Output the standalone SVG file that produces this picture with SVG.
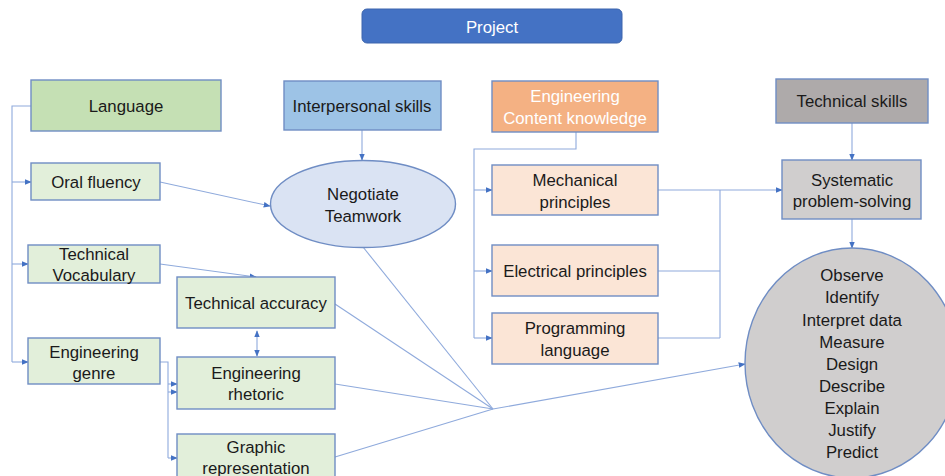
<svg xmlns="http://www.w3.org/2000/svg" width="945" height="476" viewBox="0 0 945 476">
<defs>
<marker id="ah" viewBox="0 0 10 10" refX="9" refY="5" markerWidth="7" markerHeight="7" orient="auto-start-reverse" markerUnits="userSpaceOnUse">
<path d="M0,1 L10,5 L0,9 z" fill="#4472c4"/>
</marker>
<style>
text{font-family:"Liberation Sans","Open Sans",sans-serif;font-size:16.8px;fill:#1a1a1a;text-anchor:middle;dominant-baseline:central}
.box{stroke:#6f8dc4;stroke-width:1.4}
.g1{fill:#c5e0b4}
.g2{fill:#e2efda}
.b1{fill:#9dc3e6}
.b2{fill:#dae3f3}
.o1{fill:#f4b183}
.o2{fill:#fbe5d6}
.k1{fill:#aeaaaa}
.k2{fill:#d0cece}
.w{fill:#ffffff}
.c{fill:none;stroke:#8faadc;stroke-width:1.1}
.a{marker-end:url(#ah)}
</style>
</defs>
<g id="connectors">
<path class="c" d="M31,106 H12 V362"/>
<path class="c a" d="M12,182 H31"/>
<path class="c a" d="M12,264 H28"/>
<path class="c a" d="M12,362 H28"/>
<path class="c a" d="M160,182 L270,206"/>
<path class="c a" d="M160,264 L256,277"/>
<path class="c" d="M257,331 V356" marker-start="url(#ah)" marker-end="url(#ah)"/>
<path class="c" d="M160,362 H168 V458"/>
<path class="c a" d="M168,384 H177"/>
<path class="c a" d="M168,392 H177"/>
<path class="c a" d="M168,458 H177"/>
<path class="c a" d="M362,130 V160"/>
<path class="c" d="M363,247 L493,409"/>
<path class="c" d="M335,304 L493,409"/>
<path class="c" d="M335,384 L493,409"/>
<path class="c" d="M335,457 L493,409"/>
<path class="c a" d="M493,409 L745,364"/>
<path class="c" d="M576,132 V149 H474 V338"/>
<path class="c a" d="M474,190 H492"/>
<path class="c a" d="M474,271 H492"/>
<path class="c a" d="M474,338 H492"/>
<path class="c a" d="M658,190 H782"/>
<path class="c" d="M720,190 V338"/>
<path class="c" d="M658,271 H720"/>
<path class="c" d="M658,338 H720"/>
<path class="c a" d="M852,123 V160"/>
<path class="c a" d="M852,219 V248"/>
</g>
<g id="project">
<rect x="362" y="9" width="260" height="34" rx="5" fill="#4472c4" stroke="#3d65ad" stroke-width="1"/>
<text x="492" y="27" class="w">Project</text>
</g>
<g id="language">
<rect class="box g1" x="31" y="80" width="190" height="51"/>
<text x="126" y="106">Language</text>
</g>
<g id="oral-fluency">
<rect class="box g2" x="31" y="163" width="129" height="37"/>
<text x="96" y="182">Oral fluency</text>
</g>
<g id="technical-vocabulary">
<rect class="box g2" x="28" y="245" width="132" height="38"/>
<text x="94" y="254">Technical</text>
<text x="94" y="275">Vocabulary</text>
</g>
<g id="engineering-genre">
<rect class="box g2" x="28" y="338" width="132" height="46"/>
<text x="94" y="352">Engineering</text>
<text x="94" y="373">genre</text>
</g>
<g id="technical-accuracy">
<rect class="box g2" x="177" y="277" width="158" height="51"/>
<text x="256" y="303">Technical accuracy</text>
</g>
<g id="engineering-rhetoric">
<rect class="box g2" x="177" y="357" width="158" height="52"/>
<text x="256" y="373">Engineering</text>
<text x="256" y="394">rhetoric</text>
</g>
<g id="graphic-representation">
<rect class="box g2" x="177" y="434" width="158" height="50"/>
<text x="256" y="447">Graphic</text>
<text x="256" y="468">representation</text>
</g>
<g id="interpersonal-skills">
<rect class="box b1" x="284" y="81" width="157" height="49"/>
<text x="362" y="106">Interpersonal skills</text>
</g>
<g id="negotiate-teamwork">
<ellipse class="box b2" cx="363" cy="204" rx="92.5" ry="43.5"/>
<text x="363" y="194">Negotiate</text>
<text x="363" y="216">Teamwork</text>
</g>
<g id="engineering-content">
<rect class="box o1" x="492" y="81" width="166" height="51"/>
<text x="575" y="96" class="w">Engineering</text>
<text x="575" y="118" class="w">Content knowledge</text>
</g>
<g id="mechanical">
<rect class="box o2" x="492" y="165" width="166" height="50"/>
<text x="575" y="180">Mechanical</text>
<text x="575" y="202">principles</text>
</g>
<g id="electrical">
<rect class="box o2" x="492" y="245" width="166" height="51"/>
<text x="575" y="271">Electrical principles</text>
</g>
<g id="programming">
<rect class="box o2" x="492" y="313" width="166" height="51"/>
<text x="575" y="328">Programming</text>
<text x="575" y="350">language</text>
</g>
<g id="technical-skills">
<rect class="box k1" x="776" y="79" width="152" height="44"/>
<text x="852" y="101">Technical skills</text>
</g>
<g id="systematic">
<rect class="box k2" x="782" y="160" width="139" height="59"/>
<text x="852" y="180">Systematic</text>
<text x="852" y="201">problem-solving</text>
</g>
<g id="skills-list">
<ellipse class="box k2" cx="852" cy="363" rx="107" ry="115"/>
<text x="852" y="275">Observe</text>
<text x="852" y="297">Identify</text>
<text x="852" y="320">Interpret data</text>
<text x="852" y="342">Measure</text>
<text x="852" y="364">Design</text>
<text x="852" y="386">Describe</text>
<text x="852" y="408">Explain</text>
<text x="852" y="430">Justify</text>
<text x="852" y="452">Predict</text>
</g>
</svg>
